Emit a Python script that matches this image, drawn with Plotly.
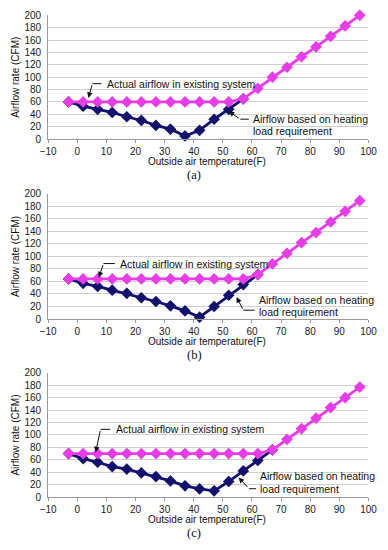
import plotly.graph_objects as go

# ---------------- data ----------------
temps = [-3, 2, 7, 12, 17, 22, 27, 32, 37, 42, 47, 52, 57, 62, 67, 72, 77, 82, 87, 92, 97]

actual_a = [60, 60, 60, 60, 60, 60, 60, 60, 60, 60, 60, 60, 65, 82, 100, 116, 133, 149, 166, 183, 200]
heating_a = [60, 53, 48, 43, 36, 30, 22, 16, 5, 14, 32, 48, 65]

actual_b = [64, 64, 64, 64, 64, 64, 64, 64, 64, 64, 64, 64, 64, 71, 88, 105, 122, 138, 155, 172, 189]
heating_b = [64, 57, 52, 46, 41, 34, 28, 21, 13, 3, 20, 38, 55, 71]

actual_c = [70, 70, 70, 70, 70, 70, 70, 70, 70, 70, 70, 70, 70, 70, 76, 93, 110, 127, 144, 160, 177]
heating_c = [70, 62, 56, 49, 45, 39, 33, 26, 18, 13, 10, 25, 42, 59, 76]

panel_labels = ["(a)", "(b)", "(c)"]
x_title = "Outside air temperature(F)"
y_title = "Airflow rate (CFM)"
actual_label = "Actual airflow in existing system"
heating_label_1 = "Airflow based on heating"
heating_label_2 = "load requirement"

# ---------------- styling / layout ----------------
W, H = 388, 550
MAGENTA = "#e83ce8"
NAVY = "#12126e"
FONT = "Liberation Sans"


def px_y(p):
    return 1 - p / H


def px_x(p):
    return p / W


panels = [
    dict(actual=actual_a, heat=heating_a, top=9.5, bot=136,
         act_head=(3.8, 66.5), act_bend=(5.2, 89.5), act_end=8.3, act_text=(9.6, 89.5),
         heat_head=(52.0, 44.7), heat_bend=(56.0, 32.1), heat_end=58.9,
         heat_text=(59.6, 32.1, 12.6)),
    dict(actual=actual_b, heat=heating_b, top=192, bot=320,
         act_head=(7.4, 66.5), act_bend=(9.0, 88.6), act_end=12.9, act_text=(14.0, 88.6),
         heat_head=(54.7, 35.2), heat_bend=(57.0, 14.1), heat_end=60.9,
         heat_text=(61.6, 29.7, 10.5)),
    dict(actual=actual_c, heat=heating_c, top=375, bot=502,
         act_head=(6.3, 72.0), act_bend=(8.0, 109.0), act_end=11.3, act_text=(12.7, 109.0),
         heat_head=(55.4, 31.5), heat_bend=(59.0, 13.4), heat_end=61.4,
         heat_text=(62.2, 33.1, 12.6)),
]

X_LEFT, X_RIGHT = 42, 377

fig = go.Figure()
annotations = []
shapes = []
layout_axes = {}

for i, p in enumerate(panels):
    n = "" if i == 0 else str(i + 1)
    xa, ya = "x" + n, "y" + n
    # navy first, magenta on top
    fig.add_trace(go.Scatter(
        x=temps[:len(p["heat"])], y=p["heat"], xaxis=xa, yaxis=ya,
        mode="lines+markers", line=dict(color=NAVY, width=2.8),
        marker=dict(symbol="diamond", size=9, color=NAVY), showlegend=False,
        hoverinfo="skip", cliponaxis=False))
    fig.add_trace(go.Scatter(
        x=temps[:len(p["actual"])], y=p["actual"], xaxis=xa, yaxis=ya,
        mode="lines+markers", line=dict(color=MAGENTA, width=2.8),
        marker=dict(symbol="diamond", size=9, color=MAGENTA), showlegend=False,
        hoverinfo="skip", cliponaxis=False))

    layout_axes["xaxis" + n] = dict(
        domain=[px_x(X_LEFT), px_x(X_RIGHT)], anchor=ya, range=[-10, 100],
        dtick=10, tick0=-10, showgrid=False, zeroline=False,
        showline=True, linecolor="#9a9a9a", linewidth=1,
        ticks="outside", ticklen=3, tickcolor="#9a9a9a",
        tickfont=dict(family=FONT, size=10, color="#222"), fixedrange=True)
    layout_axes["yaxis" + n] = dict(
        domain=[px_y(p["bot"]), px_y(p["top"])], anchor=xa, range=[0, 200],
        dtick=20, showgrid=True, gridcolor="#cfcfcf", gridwidth=1,
        zeroline=False, showline=True, linecolor="#9a9a9a", linewidth=1,
        ticks="", ticklabelstandoff=4,
        tickfont=dict(family=FONT, size=10, color="#222"), fixedrange=True)

    # actual airflow arrow (bent)
    annotations.append(dict(
        x=p["act_head"][0], y=p["act_head"][1], ax=p["act_bend"][0], ay=p["act_bend"][1],
        xref=xa, yref=ya, axref=xa, ayref=ya, text="", showarrow=True,
        arrowhead=2, arrowsize=1.1, arrowwidth=1, arrowcolor="#111"))
    shapes.append(dict(type="line", xref=xa, yref=ya,
                       x0=p["act_bend"][0], y0=p["act_bend"][1],
                       x1=p["act_end"], y1=p["act_bend"][1],
                       line=dict(color="#111", width=1)))
    annotations.append(dict(
        x=p["act_text"][0], y=p["act_text"][1], xref=xa, yref=ya,
        text=actual_label, showarrow=False, xanchor="left", yanchor="middle",
        font=dict(family=FONT, size=10.5, color="#111")))

    # heating arrow (bent)
    annotations.append(dict(
        x=p["heat_head"][0], y=p["heat_head"][1], ax=p["heat_bend"][0], ay=p["heat_bend"][1],
        xref=xa, yref=ya, axref=xa, ayref=ya, text="", showarrow=True,
        arrowhead=2, arrowsize=1.1, arrowwidth=1, arrowcolor="#111"))
    shapes.append(dict(type="line", xref=xa, yref=ya,
                       x0=p["heat_bend"][0], y0=p["heat_bend"][1],
                       x1=p["heat_end"], y1=p["heat_bend"][1],
                       line=dict(color="#111", width=1)))
    hx, hy1, hy2 = p["heat_text"]
    annotations.append(dict(
        x=hx, y=hy1, xref=xa, yref=ya, text=heating_label_1, showarrow=False,
        xanchor="left", yanchor="middle", font=dict(family=FONT, size=10.5, color="#111")))
    annotations.append(dict(
        x=hx, y=hy2, xref=xa, yref=ya, text=heating_label_2, showarrow=False,
        xanchor="left", yanchor="middle", font=dict(family=FONT, size=10.5, color="#111")))

    # axis titles and caption
    annotations.append(dict(
        x=px_x(208), y=px_y(p["bot"] + 23), xref="paper", yref="paper",
        text=x_title, showarrow=False, xanchor="center", yanchor="middle",
        font=dict(family=FONT, size=10, color="#111")))
    annotations.append(dict(
        x=px_x(8), y=px_y((p["top"] + p["bot"]) / 2), xref="paper", yref="paper",
        text=y_title, showarrow=False, textangle=-90, xanchor="center", yanchor="middle",
        font=dict(family=FONT, size=10, color="#111")))
    annotations.append(dict(
        x=px_x(195), y=px_y(p["bot"] + 37), xref="paper", yref="paper",
        text=panel_labels[i], showarrow=False, xanchor="center", yanchor="middle",
        font=dict(family="Liberation Serif", size=12.5, color="#111")))

fig.update_layout(
    width=W, height=H, margin=dict(l=0, r=0, t=0, b=0),
    paper_bgcolor="white", plot_bgcolor="white",
    showlegend=False, annotations=annotations, shapes=shapes,
    **layout_axes)

fig.write_html("out.html", config={"displayModeBar": False, "staticPlot": True},
               post_script="document.body.style.margin='0';document.body.style.overflow='hidden';")
